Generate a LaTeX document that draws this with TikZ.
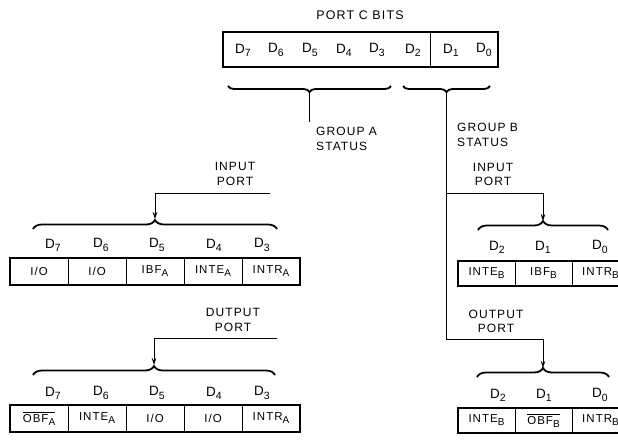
\documentclass[tikz,border=0pt]{standalone}
\usepackage{fontspec}
\setmainfont[LetterSpace=9]{Liberation Sans}
\usetikzlibrary{positioning,arrows.meta,decorations.pathreplacing}
\newcommand{\lo}[1]{\raisebox{-0.5ex}{\fontsize{10}{10}\selectfont #1}}
\newcommand{\dlo}[1]{\raisebox{-0.45ex}{\fontsize{10.5}{10.5}\selectfont #1}}
\newcommand{\nbar}[1]{$\overline{\mbox{#1}}$}

\begin{document}
\begin{tikzpicture}[x=1pt,y=1pt,
    bitlbl/.style={inner sep=0pt,font=\fontsize{13.5}{13.5}\selectfont},
    cell/.style={draw,line width=0.7pt,minimum width=58pt,minimum height=27pt,inner sep=0pt,outer sep=0pt,font=\fontsize{11.5}{12}\selectfont},
    bcell/.style={cell,minimum width=57pt,minimum height=25pt},
    frame/.style={draw,line width=1.8pt},
    note/.style={inner sep=0pt,align=center,font=\fontsize{12}{14.5}\selectfont},
    grpdown/.style={decorate,decoration={brace,mirror,amplitude=6pt},line width=1.8pt},
    grpup/.style={decorate,decoration={brace,amplitude=9pt},line width=1.8pt},
    feed/.style={line width=0.7pt,-{Stealth[length=7pt,width=4.5pt]}}]
  \useasboundingbox (0,0) rectangle (618,440);
  \clip (0,0) rectangle (618,440);
  % port C
  \node[note,font=\fontsize{12.5}{14}\selectfont] (title) at (360,425) {PORT C BITS};
  \node[frame,minimum width=275pt,minimum height=35pt,inner sep=0pt] (portc) at (360.5,390.5) {};
  \coordinate (split) at (430,0);
  \draw[line width=0.7pt] (portc.north -| split) -- (portc.south -| split);
  \foreach \x/\b in {243/7,276/6,310/5,344/4,377/3,413/2,451/1,484/0}
    \node[bitlbl] (c\b) at (\x,390) {D\dlo{\b}};
  % group braces
  \coordinate (gaL) at (228,354); \coordinate (gaR) at (391,354);
  \coordinate (gbL) at (403,354); \coordinate (gbR) at (490,354);
  \draw[grpdown] (gaL) -- (gaR);
  \draw[grpdown] (gbL) -- (gbR);
  \coordinate (gA) at (309.5,348); \coordinate (gAend) at (309.5,318);
  \coordinate (gB) at (446.5,348);
  \draw[line width=0.7pt] (gA) -- (gAend);
  \node[note,align=left,anchor=north west] (stA) at (316,313) {GROUP A\\STATUS};
  \node[note,align=left,anchor=north west] (stB) at (457,317) {GROUP B\\STATUS};
  % group A, input
  \node[note] (inA) at (235,266) {INPUT\\PORT};
  \coordinate (inAst) at (270,247); \coordinate (inAtip) at (155,221);
  \draw[feed] (inAst) -| (inAtip);
  \draw[grpup] (33,211) coordinate (iaL) -- (277,211) coordinate (iaR);
  \foreach \x/\b in {53/7,101/6,157/5,214/4,262/3}
    \node[bitlbl] (ia\b) at (\x,195) {D\dlo{\b}};
  \foreach \t [count=\i] in {I/O,I/O,IBF\lo{A},INTE\lo{A},INTR\lo{A}}
    \node[cell] (ra\i) at ({58*\i-19},168.5) {\t};
  \draw[frame] (ra1.north west) rectangle (ra5.south east);
  % group A, output
  \node[note] (outA) at (233,120) {DUTPUT\\PORT};
  \coordinate (outAst) at (277,102); \coordinate (outAtip) at (154,75);
  \draw[feed] (outAst) -| (outAtip);
  \draw[grpup] (33,65) coordinate (oaL) -- (275,65) coordinate (oaR);
  \foreach \x/\b in {53/7,101/6,157/5,214/4,262/3}
    \node[bitlbl] (oa\b) at (\x,47) {D\dlo{\b}};
  \foreach \t [count=\i] in {\nbar{OBF\lo{A}},INTE\lo{A},I/O,I/O,INTR\lo{A}}
    \node[cell] (sa\i) at ({58*\i-19},21.5) {\t};
  \draw[frame] (sa1.north west) rectangle (sa5.south east);
  % group B, input
  \node[note] (inB) at (493,265.5) {INPUT\\PORT};
  \coordinate (inBcor) at (543,247); \coordinate (inBtip) at (543,219);
  \draw[feed] (gB) |- (inBcor) -- (inBtip);
  \draw[grpup] (478,210) coordinate (ibL) -- (608,210) coordinate (ibR);
  \foreach \x/\b in {497/2,543/1,600/0}
    \node[bitlbl] (ib\b) at (\x,193) {D\dlo{\b}};
  \foreach \t [count=\i] in {INTE\lo{B},IBF\lo{B},INTR\lo{B}}
    \node[bcell] (rb\i) at ({57*\i+429.5},166.5) {\t};
  \draw[frame] (rb1.north west) rectangle (rb3.south east);
  % group B, output
  \node[note] (outB) at (496,118.5) {OUTPUT\\PORT};
  \coordinate (outBcor) at (543,101); \coordinate (outBtip) at (543,72);
  \draw[feed] (gB) |- (outBcor) -- (outBtip);
  \draw[grpup] (477,63) coordinate (obL) -- (609,63) coordinate (obR);
  \foreach \x/\b in {498/2,544/1,600/0}
    \node[bitlbl] (ob\b) at (\x,45) {D\dlo{\b}};
  \foreach \t [count=\i] in {INTE\lo{B},\nbar{OBF\lo{B}},INTR\lo{B}}
    \node[bcell] (sb\i) at ({57*\i+429.5},19.5) {\t};
  \draw[frame] (sb1.north west) rectangle (sb3.south east);
\end{tikzpicture}
\end{document}
